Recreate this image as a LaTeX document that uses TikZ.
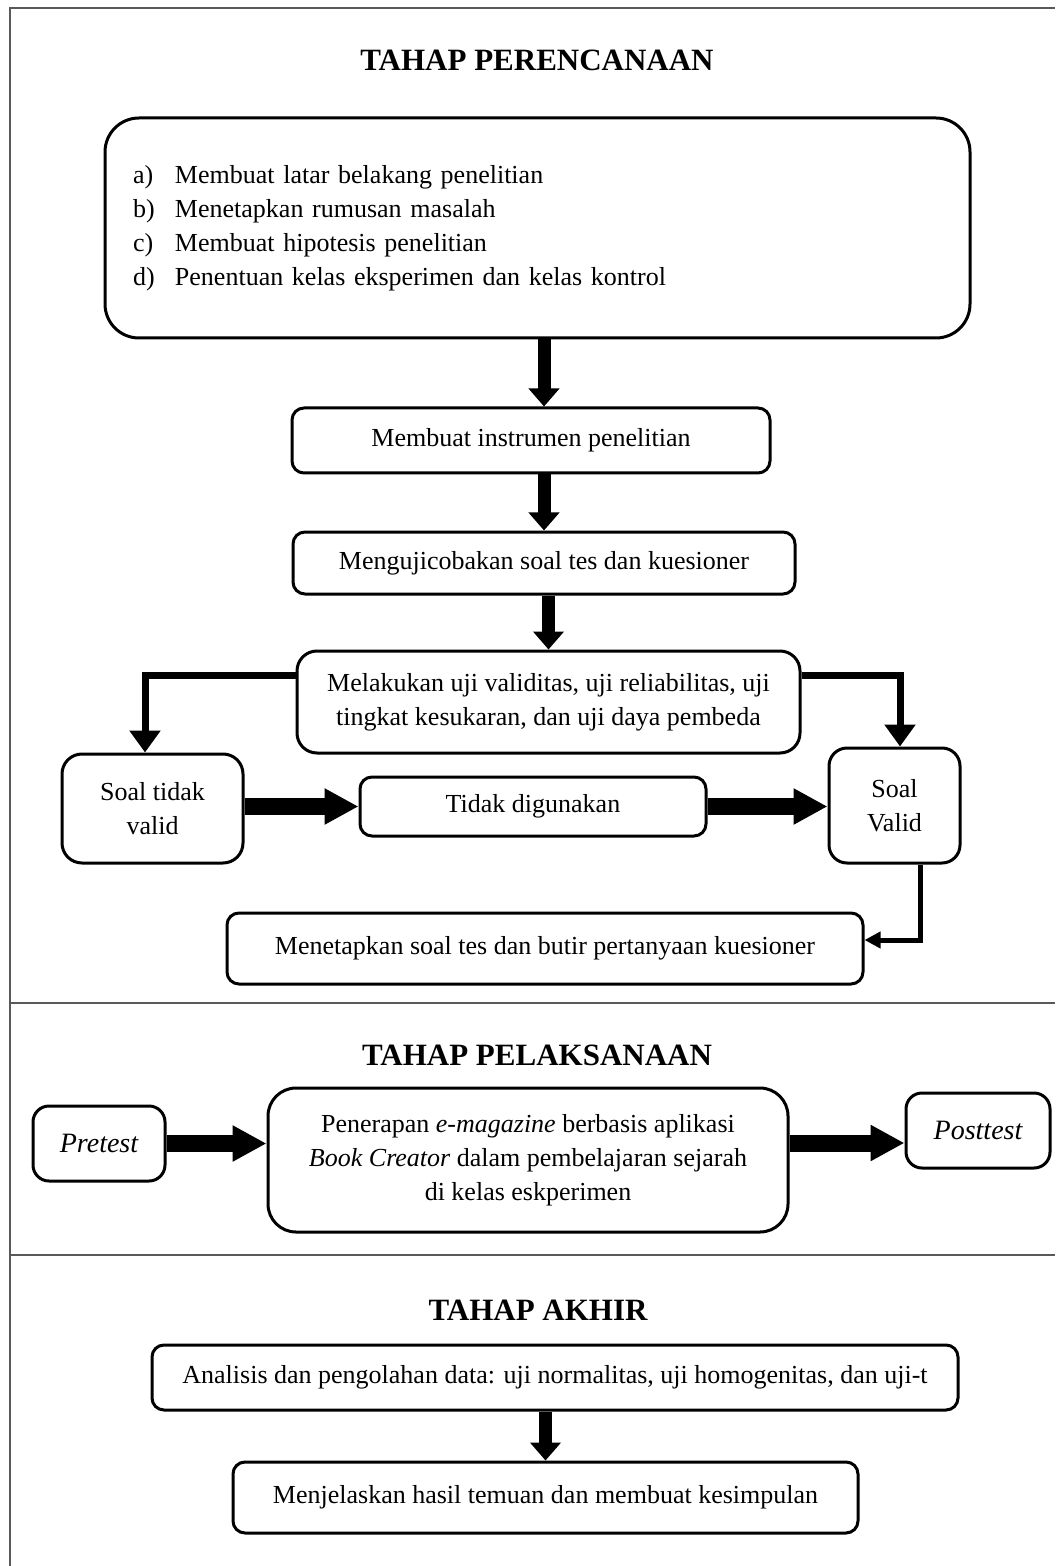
\documentclass[tikz,border=0pt]{standalone}
\usepackage{fontspec}
\setmainfont{Liberation Serif}
\usetikzlibrary{arrows.meta}
\begin{document}
\begin{tikzpicture}[x=0.5pt,y=-0.5pt,
  box/.style={draw, line width=1.5pt, rounded corners=6pt, fill=white, align=center, inner sep=2pt, font=\fontsize{13}{17}\selectfont},
  ttl/.style={font=\fontsize{15.5}{18}\selectfont\bfseries},
  frame/.style={draw=black!65, line width=1pt},
  vthick/.style={line width=6.5pt, -{Triangle[width=15pt,length=9pt]}},
  fat/.style={line width=8.5pt, -{Triangle[width=17pt,length=17pt]}},
  elbow/.style={line width=3.5pt, line join=miter, -{Triangle[width=15pt,length=11pt]}},
  thinelbow/.style={line width=2.5pt, line join=miter, -{Triangle[width=8pt,length=8pt]}}]
\useasboundingbox (0,0) rectangle (1055,1566);
\fill[white] (0,0) rectangle (1055,1566);
% frame
\draw[frame] (10,1566) -- (10,8) -- (1055,8);
\draw[frame] (10,1003) -- (1055,1003);
\draw[frame] (10,1255) -- (1055,1255);
% titles
\node[ttl] (t1) at (537,60) {TAHAP PERENCANAAN};
\node[ttl] (t2) at (537,1055) {TAHAP PELAKSANAAN};
\node[ttl] (t3) at (538,1310) {TAHAP AKHIR};
% planning
\node[box, rounded corners=17pt, minimum width=432.5pt, minimum height=110pt, text width=404.5pt, inner xsep=14pt, align=left] (big) at (537.5,228)
 {\makebox[21pt][l]{a)}Membuat latar belakang penelitian\\
  \makebox[21pt][l]{b)}Menetapkan rumusan masalah\\
  \makebox[21pt][l]{c)}Membuat hipotesis penelitian\\
  \makebox[21pt][l]{d)}Penentuan kelas eksperimen dan kelas kontrol};
\node[box, minimum width=239pt, minimum height=32.5pt] (b1) at (531,440.5) {Membuat instrumen penelitian};
\node[box, minimum width=251pt, minimum height=31pt] (b2) at (544,563) {Mengujicobakan soal tes dan kuesioner};
\node[box, rounded corners=10pt, minimum width=251.5pt, minimum height=51pt] (b3) at (548.5,702) {Melakukan uji validitas, uji reliabilitas, uji\\tingkat kesukaran, dan uji daya pembeda};
\node[box, rounded corners=10pt, minimum width=90.5pt, minimum height=54.5pt] (stv) at (152.5,808.5) {Soal tidak\\valid};
\node[box, minimum width=173pt, minimum height=29.5pt] (td) at (533,806.5) {Tidak digunakan};
\node[box, rounded corners=9pt, minimum width=65.5pt, minimum height=57.5pt] (sv) at (894.5,805.5) {Soal\\Valid};
\node[box, minimum width=318pt, minimum height=35.5pt] (mt) at (545,948.5) {Menetapkan soal tes dan butir pertanyaan kuesioner};
\draw[vthick] (big.south -| b2.north) -- (b1.north -| b2.north);
\draw[vthick] (b1.south -| b2.north) -- (b2.north);
\draw[vthick] (b2.south -| b3.north) -- (b3.north);
\draw[elbow] ([yshift=13.5pt]b3.west) -| ([xshift=-3.75pt]stv.north);
\draw[elbow] ([yshift=13.5pt]b3.east) -| ([xshift=2.75pt]sv.north);
\draw[fat] (stv.east |- td.west) -- (td.west);
\draw[fat] (td.east) -- (td.east -| sv.west);
\draw[thinelbow] ([xshift=12.75pt]sv.south) |- ([yshift=4.25pt]mt.east);
% implementation
\node[box, rounded corners=8pt, minimum width=66pt, minimum height=37.5pt, font=\fontsize{14}{17}\selectfont\itshape] (pre) at (99,1143.5) {Pretest};
\node[box, rounded corners=14pt, minimum width=260pt, minimum height=72pt] (mid) at (528,1160) {Penerapan \textit{e-magazine} berbasis aplikasi\\\textit{Book Creator} dalam pembelajaran sejarah\\di kelas eskperimen};
\node[box, rounded corners=8pt, minimum width=72pt, minimum height=37.5pt, font=\fontsize{14}{17}\selectfont\itshape] (post) at (978,1130.5) {Posttest};
\draw[fat] (pre.east) -- (pre.east -| mid.west);
\draw[fat] ([yshift=8.5pt]mid.east) -- ([yshift=8.5pt]mid.east -| post.west);
% final
\node[box, minimum width=403pt, minimum height=32.5pt] (an) at (555,1377.5) {Analisis dan pengolahan data: uji normalitas, uji homogenitas, dan uji-t};
\node[box, minimum width=312.5pt, minimum height=35.5pt] (mj) at (545.5,1497.5) {Menjelaskan hasil temuan dan membuat kesimpulan};
\draw[vthick] (an.south -| mj.north) -- (mj.north);
\end{tikzpicture}
\end{document}
